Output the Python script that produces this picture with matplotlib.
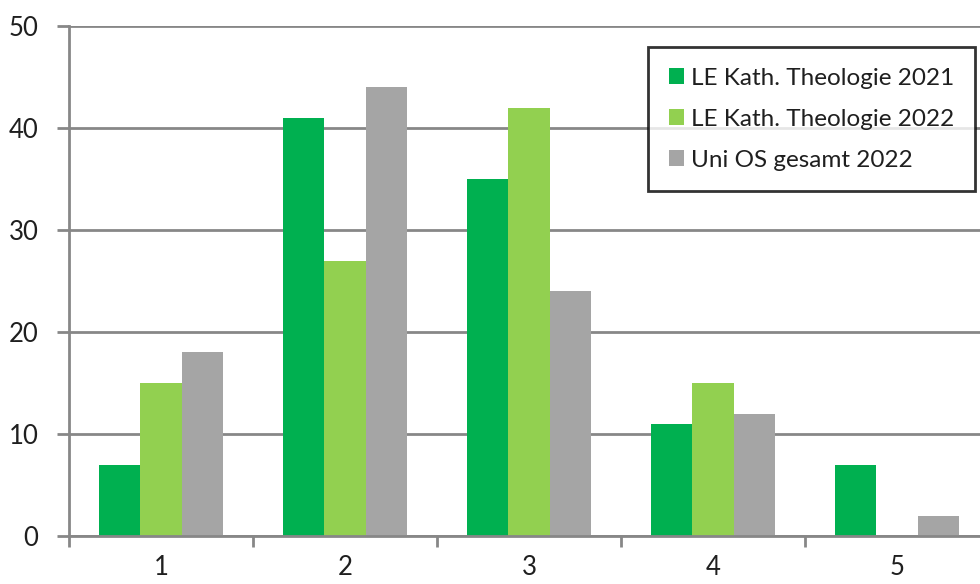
import numpy as np
import matplotlib.pyplot as plt

categories = ["1", "2", "3", "4", "5"]
theo_2021 = [7, 41, 35, 11, 7]
theo_2022 = [15, 27, 42, 15, 0]
uni_2022 = [18, 44, 24, 12, 2]

series = [
    ("LE Kath. Theologie 2021", theo_2021, "#00B050"),
    ("LE Kath. Theologie 2022", theo_2022, "#92D050"),
    ("Uni OS gesamt 2022", uni_2022, "#A5A5A5"),
]

plt.rcParams['font.family'] = ['Lato', 'DejaVu Sans']

W, H = 980, 584
fig = plt.figure(figsize=(W / 100, H / 100), dpi=100)
ax = fig.add_axes([69 / W, (H - 536) / H, 920 / W, 510 / H])

x = np.arange(1, len(categories) + 1)
bw = 0.223
for i, (name, vals, col) in enumerate(series):
    ax.bar(x + (i - 1) * bw, vals, width=bw, color=col, label=name, zorder=3)

ax.set_xlim(0.5, 5.5)
ax.set_ylim(0, 50)
ax.set_yticks(range(0, 51, 10))
ax.set_xticks(x)
ax.set_xticklabels(categories)
ax.set_xticks(np.arange(0.5, 5.6, 1), minor=True)

grid_c = "#878787"
ax.yaxis.grid(True, color=grid_c, linewidth=2, zorder=0)
for s in ["top", "right"]:
    ax.spines[s].set_visible(False)
for s in ["left", "bottom"]:
    ax.spines[s].set_color(grid_c)
    ax.spines[s].set_linewidth(2)
    ax.spines[s].set_zorder(4)

ax.tick_params(axis="y", length=9, width=2, color=grid_c, labelsize=18.5,
               labelcolor="#1f1f1f", pad=13)
ax.tick_params(axis="x", which="major", length=0, labelsize=18.5,
               labelcolor="#1f1f1f", pad=14)
ax.tick_params(axis="x", which="minor", length=8, width=2, color=grid_c)

leg = ax.legend(loc="upper right", bbox_to_anchor=(975 / W, 1 - 47 / H),
                bbox_transform=fig.transFigure, fontsize=17.5, frameon=True,
                fancybox=False, edgecolor="black", handlelength=0.62,
                handleheight=0.62, handletextpad=0.3, labelspacing=0.82,
                borderpad=0.85, borderaxespad=0)
leg.get_frame().set_linewidth(2)
leg.set_zorder(5)
for t in leg.get_texts():
    t.set_color("#1f1f1f")

fig.savefig("out.png", dpi=100)
